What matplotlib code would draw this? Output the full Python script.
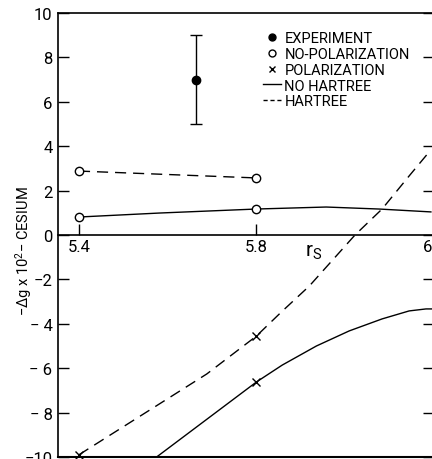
import matplotlib
matplotlib.use("Agg")
import matplotlib.pyplot as plt
from matplotlib.lines import Line2D

# ---- data ----
exp_rs = [5.663]
exp_val = [7.0]
exp_err = [2.0]

nopol_hart_rs = [5.4, 5.8]
nopol_hart = [2.88, 2.57]

nopol_nohart_rs = [5.4, 5.582, 5.8, 5.957, 6.076, 6.193]
nopol_nohart = [0.81, 0.99, 1.17, 1.26, 1.17, 1.04]
nopol_marker_rs = [5.4, 5.8]
nopol_marker_val = [0.81, 1.17]

pol_hart_rs = [5.4, 5.582, 5.688, 5.8, 5.856, 5.919, 6.022, 6.083, 6.144, 6.189]
pol_hart = [-9.9, -7.6, -6.26, -4.55, -3.47, -2.3, 0.0, 1.17, 2.66, 3.74]
pol_hart_mk_rs = [5.4, 5.8]
pol_hart_mk = [-9.9, -4.55]

pol_nohart_rs = [5.575, 5.8, 5.858, 5.935, 6.009, 6.083, 6.144, 6.182, 6.2]
pol_nohart = [-10.0, -6.62, -5.86, -5.0, -4.32, -3.78, -3.42, -3.33, -3.33]
pol_nohart_mk_rs = [5.8]
pol_nohart_mk = [-6.62]

xticks = [5.4, 5.8, 6.2]
xticklabels = ["5.4", "5.8", "6.2"]
yticks = [-10, -8, -6, -4, -2, 0, 2, 4, 6, 8, 10]
yticklabels = ["\u221210", "\u2212 8", "\u2212 6", "\u2212 4", "\u22122", "0", "2", "4", "6", "8", "10"]

plt.rcParams['font.family'] = ['Roboto', 'DejaVu Sans']
plt.rcParams['mathtext.fontset'] = 'custom'
plt.rcParams['mathtext.rm'] = 'Roboto'
plt.rcParams['mathtext.it'] = 'Roboto'

fig = plt.figure(figsize=(4.32, 4.60), dpi=100)
W, H = 432, 460
left = 58 / W
right = 434 / W
bottom = 2 / H
top = 1 - 14 / H
ax = fig.add_axes([left, bottom, right - left, top - bottom])
ax.set_xlim(5.3528, 6.2)
ax.set_ylim(-10, 10)

lw = 1.0
dash = (0, (8, 5))
k = 'black'

ax.plot(nopol_hart_rs, nopol_hart, color=k, lw=lw, linestyle=dash)
ax.plot(nopol_hart_rs, nopol_hart, 'o', mfc='white', mec=k, ms=6, mew=1.0)
ax.plot(nopol_nohart_rs, nopol_nohart, color=k, lw=lw)
ax.plot(nopol_marker_rs, nopol_marker_val, 'o', mfc='white', mec=k, ms=6, mew=1.0)

ax.plot(pol_hart_rs, pol_hart, color=k, lw=lw, linestyle=dash)
ax.plot(pol_hart_mk_rs, pol_hart_mk, 'x', color=k, ms=6, mew=1.0, clip_on=False)
ax.plot(pol_nohart_rs, pol_nohart, color=k, lw=lw)
ax.plot(pol_nohart_mk_rs, pol_nohart_mk, 'x', color=k, ms=6, mew=1.0)

ax.errorbar(exp_rs, exp_val, yerr=exp_err, fmt='o', color=k, ms=6,
            capsize=4, elinewidth=1.0, capthick=1.0)

# axes styling
ax.spines['bottom'].set_position(('data', 0))
ax.spines['right'].set_visible(False)
ax.axhline(-10, color=k, lw=1.5, clip_on=False)
for s in ['left', 'top', 'bottom']:
    ax.spines[s].set_linewidth(1.2)

ax.set_yticks(yticks)
ax.set_yticklabels(yticklabels, fontsize=12)
ax.tick_params(axis='y', direction='in', length=8, width=1.0, left=True, right=True, pad=4)
ax.set_xticks(xticks)
ax.set_xticklabels(xticklabels, fontsize=12)
ax.tick_params(axis='x', direction='in', length=8, width=1.0, pad=3)

ax.text(5.93, -0.3, r'r$_\mathregular{S}$', fontsize=15, ha='center', va='top')
fig.text(24 / W, 1 - 251 / H, '\u2212\u0394g x 10$^{\\mathregular{2}}$\u2212 CESIUM', rotation=90,
         ha='center', va='center', fontsize=10.5)

handles = [
    Line2D([], [], marker='o', color=k, linestyle='none', ms=5),
    Line2D([], [], marker='o', mfc='white', mec=k, linestyle='none', ms=5),
    Line2D([], [], marker='x', color=k, linestyle='none', ms=5),
    Line2D([], [], color=k, lw=1.0),
    Line2D([], [], color=k, lw=1.0, linestyle=(0, (3, 2))),
]
labels = ['EXPERIMENT', 'NO-POLARIZATION', 'POLARIZATION', 'NO HARTREE', 'HARTREE']
ax.legend(handles, labels, loc='upper left', bbox_to_anchor=((256 - 58) / 376, (458 - 25) / 444),
          frameon=False, fontsize=10.5, handlelength=1.2, handletextpad=0.25,
          labelspacing=0.12, borderpad=0)

fig.savefig('out.png', dpi=100)
